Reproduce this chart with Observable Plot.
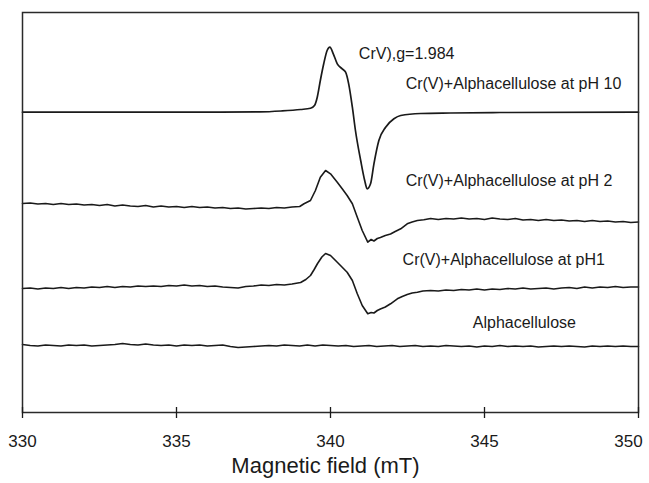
<!DOCTYPE html>
<html>
<head>
<meta charset="utf-8">
<script src="https://cdn.jsdelivr.net/npm/d3@7"></script>
<script src="https://cdn.jsdelivr.net/npm/@observablehq/plot@0.6"></script>
<style>
  html, body { margin: 0; padding: 0; background: #fff; overflow: hidden; }
  #chart svg { display: block; font-family: "Liberation Sans", Arial, sans-serif; }
</style>
</head>
<body>
<div id="chart"></div>
<script>
// EPR derivative spectra, [field (mT), signal (a.u.)] pairs; each trace is stacked with its own offset.
const spectrumPH10 = [
  [330.00, 0.3], [332.50, 0.3], [335.80, 0.3], [337.70, 0.6], [338.40, 1.5], [339.03, 3],
  [339.35, 4.3], [339.48, 7], [339.57, 15.3], [339.67, 32], [339.78, 48.7], [339.89, 62],
  [339.98, 65.3], [340.09, 58.7], [340.22, 48.7], [340.38, 43.7], [340.49, 40.3], [340.59, 28.7],
  [340.71, 5.3], [340.81, -18], [340.98, -48], [341.11, -68], [341.19, -76.3], [341.30, -71.3],
  [341.41, -51.3], [341.57, -28], [341.79, -14.7], [342.06, -6.3], [342.28, -3], [342.93, -1],
  [343.90, -0.5], [345.50, 0], [350.00, 0.3]
];

const spectrumPH2 = [
  [330.00, 2], [330.25, 2.5], [330.50, 1.5], [330.75, 2], [331.00, 1], [331.25, 2], [331.50, 1],
  [331.75, 1.5], [332.00, 0.5], [332.25, 1], [332.50, 0], [332.75, 1], [333.00, -0.5], [333.25, 0.5],
  [333.50, -0.5], [333.75, -1], [334.00, 0], [334.25, -1.5], [334.50, -0.5], [334.75, -1.5],
  [335.00, -1], [335.25, -2], [335.50, -1], [335.75, -2], [336.00, -1.5], [336.25, -2.5],
  [336.50, -2], [336.75, -3], [337.00, -2.5], [337.25, -3.5], [337.50, -3], [337.75, -2.5],
  [338.00, -3], [338.25, -2], [338.50, -2.5], [338.75, -1.5], [339.00, -1], [339.14, 1.7],
  [339.35, 5], [339.51, 15], [339.67, 28.3], [339.84, 35], [340.00, 31.7], [340.22, 23.3],
  [340.38, 16.7], [340.54, 10], [340.71, 1.7], [340.87, -11.7], [341.03, -25], [341.21, -36.7],
  [341.32, -34], [341.41, -35.5], [341.52, -33], [341.62, -32], [341.78, -30], [341.95, -28.5],
  [342.10, -26], [342.28, -23.3], [342.49, -18.3], [342.65, -16.5], [342.82, -15], [343.03, -14.3],
  [343.25, -13], [343.50, -14], [343.75, -13], [344.00, -13.5], [344.25, -12.5], [344.50, -13.5],
  [344.75, -13], [345.00, -14], [345.25, -12.5], [345.50, -13.5], [345.75, -14], [346.00, -13],
  [346.25, -14.5], [346.50, -14], [346.75, -15], [347.00, -14], [347.25, -15], [347.50, -14.5],
  [347.75, -15.5], [348.00, -15], [348.25, -16], [348.50, -15], [348.75, -16], [349.00, -15.5],
  [349.25, -16.5], [349.50, -16], [349.75, -17], [350.00, -16.5]
];

const spectrumPH1 = [
  [330.00, -1], [330.25, -0.5], [330.50, -1.5], [330.75, -0.5], [331.00, -1], [331.25, 0],
  [331.50, -1], [331.75, 0], [332.00, -0.5], [332.25, 0.5], [332.50, 0], [332.75, 1], [333.00, 0],
  [333.25, 1], [333.50, 0.5], [333.75, 1.5], [334.00, 1], [334.25, 1.5], [334.50, 1], [334.75, 2],
  [335.00, 1.5], [335.25, 2.5], [335.50, 1.5], [335.75, 2], [336.00, 1], [336.25, 1.5],
  [336.50, 0.5], [336.75, 0], [337.00, -0.5], [337.25, 1], [337.50, 1.5], [337.75, 2.5],
  [338.00, 2], [338.25, 3], [338.50, 2.5], [338.75, 3.5], [339.03, 5], [339.20, 8], [339.35, 12],
  [339.47, 18], [339.58, 24], [339.72, 30.5], [339.84, 34], [340.00, 32], [340.22, 25.3],
  [340.38, 20.3], [340.54, 15.3], [340.71, 7], [340.87, -6.3], [341.03, -18], [341.21, -26.3],
  [341.32, -25], [341.41, -25.5], [341.52, -23], [341.62, -21.5], [341.78, -19.5], [341.95, -16.3],
  [342.17, -11.3], [342.33, -9], [342.49, -7], [342.65, -5.5], [342.82, -4.7], [343.00, -3.5],
  [343.25, -3], [343.50, -3.5], [343.75, -2.5], [344.00, -3], [344.25, -2], [344.50, -2.5],
  [344.75, -1.5], [345.00, -2.5], [345.25, -1.5], [345.50, -2], [345.75, -1], [346.00, -1.5],
  [346.25, -0.5], [346.50, -1.5], [346.75, -1], [347.00, -0.5], [347.25, -1.5], [347.50, -0.5],
  [347.75, 0], [348.00, -1], [348.25, 0.5], [348.50, -0.5], [348.75, 0.5], [349.00, 0],
  [349.25, 1], [349.50, 0], [349.75, 0.5], [350.00, 0.5]
];

const spectrumAlpha = [
  [330.00, 1], [330.25, 0], [330.50, -0.5], [330.75, 0.5], [331.00, 0], [331.25, -0.5],
  [331.50, 0.5], [331.75, 0], [332.00, 0.5], [332.25, -0.5], [332.50, 0], [332.75, 0.5],
  [333.00, 1], [333.25, 2], [333.50, 1], [333.75, 0.5], [334.00, 1.5], [334.25, 0.5], [334.50, 0],
  [334.75, 0.5], [335.00, -0.5], [335.25, 0.5], [335.50, 0], [335.75, 0.5], [336.00, -0.5],
  [336.25, 0], [336.50, 0.5], [336.75, -1], [337.00, -2], [337.25, -1.5], [337.50, -1],
  [337.75, -0.5], [338.00, 0], [338.25, -0.5], [338.50, 0.5], [338.75, 0], [339.00, -0.5],
  [339.25, 0.5], [339.50, -0.5], [339.75, 0.5], [340.00, 0], [340.25, -0.5], [340.50, 0],
  [340.75, -1], [341.00, -0.5], [341.25, 0], [341.50, -1], [341.75, -0.5], [342.00, 0],
  [342.25, -1], [342.50, -0.5], [342.75, 0], [343.00, -1], [343.25, -0.5], [343.50, -1],
  [343.75, 0], [344.00, -0.5], [344.25, -1], [344.50, -0.5], [344.75, -1.5], [345.00, -0.5],
  [345.25, -1], [345.50, 0], [345.75, -1], [346.00, -0.5], [346.25, -1], [346.50, -0.5],
  [346.75, -1.5], [347.00, -1], [347.25, -0.5], [347.50, -1], [347.75, -0.5], [348.00, -1],
  [348.25, -1.5], [348.50, -0.5], [348.75, -1], [349.00, -0.5], [349.25, -1], [349.50, -0.5],
  [349.75, -1], [350.00, -1]
];

// Stacking offsets (a.u.) for each trace
const traceNames = ["pH 10", "pH 2", "pH 1", "Alphacellulose"];
const traceOffsets = [300, 207, 125, 67];
const traceData = [spectrumPH10, spectrumPH2, spectrumPH1, spectrumAlpha];

// Annotations: text, field where the text starts (mT), vertical level (a.u.)
const labelTexts = [
  "CrV),g=1.984",
  "Cr(V)+Alphacellulose at pH 10",
  "Cr(V)+Alphacellulose at pH 2",
  "Cr(V)+Alphacellulose at pH1",
  "Alphacellulose"
];
const labelFields = [340.92, 342.44, 342.44, 342.34, 344.62];
const labelLevels = [359, 329, 232, 153, 90];

const fieldTicks = [330, 335, 340, 345, 350];

const rows = traceData.flatMap((points, i) =>
  points.map(([field, signal]) => ({trace: traceNames[i], field, value: traceOffsets[i] + signal}))
);
const labels = labelTexts.map((text, i) => ({text, field: labelFields[i], level: labelLevels[i]}));

const ink = "#1a1a1a";
const tickLabelStyle = {x: d => d, y: 0, dy: 22, lineAnchor: "top", fontSize: 17, fill: ink};

const chart = Plot.plot({
  width: 649,
  height: 483,
  marginLeft: 22,
  marginRight: 11,
  marginTop: 12,
  marginBottom: 71,
  style: {fontFamily: "'Liberation Sans', Arial, sans-serif", background: "#fff", color: ink},
  x: {domain: [330, 350], axis: null},
  y: {domain: [0, 400], axis: null},
  marks: [
    Plot.line(rows.filter(d => d.trace === "pH 10"), {
      x: "field", y: "value", stroke: ink, strokeWidth: 1.7, curve: "monotone-x"
    }),
    Plot.line(rows.filter(d => d.trace !== "pH 10"), {
      x: "field", y: "value", z: "trace", stroke: ink, strokeWidth: 1.6, curve: "linear"
    }),
    Plot.text(labels, {
      x: "field", y: "level", text: "text", textAnchor: "start", lineAnchor: "middle",
      fontSize: 16, fill: ink
    }),
    Plot.frame({stroke: "#2a2a2a", strokeWidth: 1.5}),
    // tick marks crossing the bottom axis line
    Plot.ruleX(fieldTicks, {y1: -6, y2: 5, stroke: ink, strokeWidth: 1.3}),
    Plot.text(fieldTicks.slice(0, -1), tickLabelStyle),
    Plot.text(fieldTicks.slice(-1), {...tickLabelStyle, dx: -10}),
    Plot.text(["Magnetic field (mT)"], {
      frameAnchor: "bottom", dy: 60, dx: -5, lineAnchor: "bottom", fontSize: 22, fill: ink
    })
  ]
});

document.getElementById("chart").appendChild(chart);
</script>
</body>
</html>
